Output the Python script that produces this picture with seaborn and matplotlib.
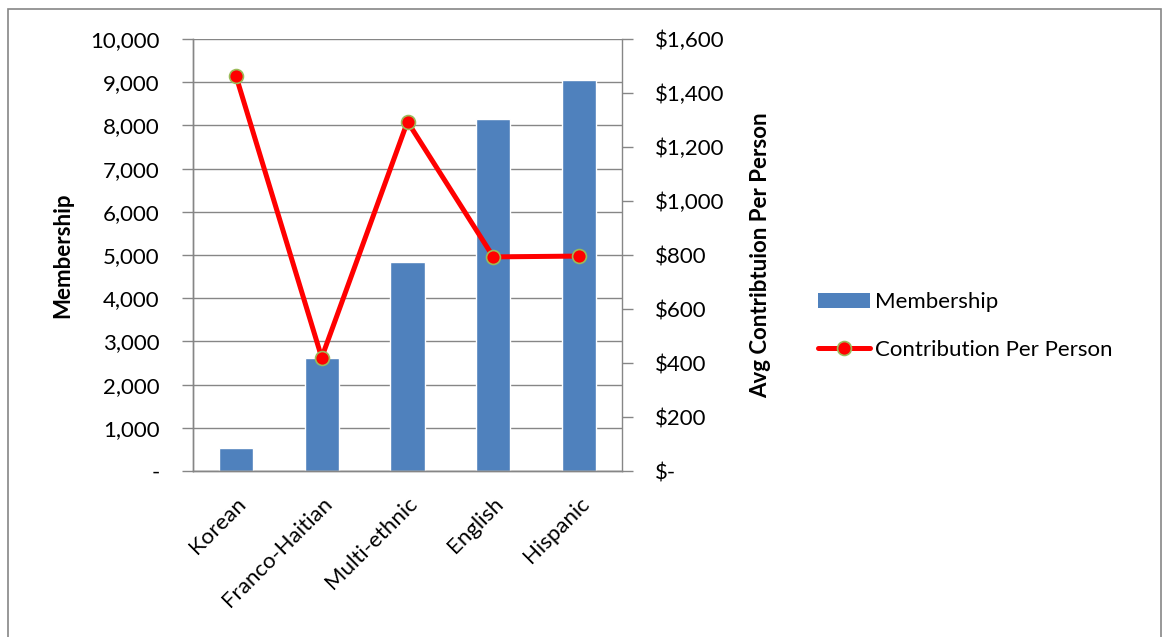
import matplotlib

matplotlib.use("Agg")
import matplotlib.pyplot as plt
import matplotlib.ticker as mticker
import numpy as np
import pandas as pd
import seaborn as sns
from matplotlib.lines import Line2D
from matplotlib.patches import Patch, Rectangle

categories = ["Korean", "Franco-Haitian", "Multi-ethnic", "English", "Hispanic"]
membership = [540, 2610, 4830, 8140, 9050]
contribution = [1464, 420, 1294, 793, 796]

BAR_COLOR = "#4F81BD"
LINE_COLOR = "#FF0000"
MARKER_EDGE = "#9BBB59"
AXIS_GRAY = "#868686"
FS = 16

sns.set_theme(style="white")
plt.rcParams["font.family"] = ["Lato", "DejaVu Sans"]
plt.rcParams.update({
    "font.size": FS,
    "xtick.labelsize": FS,
    "ytick.labelsize": FS,
    "text.color": "black",
    "axes.labelcolor": "black",
    "xtick.color": "black",
    "ytick.color": "black",
})

df = pd.DataFrame({"group": categories, "members": membership, "contrib": contribution})

fig = plt.figure(figsize=(11.63, 6.37), dpi=100)
ax = fig.add_axes([193 / 1163, 1 - 471 / 637, (622 - 193) / 1163, (471 - 39) / 637])

sns.barplot(data=df, x="group", y="members", color=BAR_COLOR, width=0.4,
            saturation=1, ax=ax, zorder=2)
ax.set_ylim(0, 10000)
ax.set_xlim(-0.5, len(categories) - 0.5)
ax.yaxis.set_major_locator(mticker.MultipleLocator(1000))
ax.yaxis.set_major_formatter(mticker.FuncFormatter(lambda v, p: "-" if v == 0 else f"{v:,.0f}"))
ax.grid(axis="y", color=AXIS_GRAY, linewidth=1, zorder=0)
ax.set_axisbelow(True)
ax.set_xlabel("")
ax.set_ylabel("Membership", fontsize=FS, fontweight="bold", labelpad=12)

ax2 = ax.twinx()
sns.lineplot(data=df, x="group", y="contrib", sort=False, color=LINE_COLOR,
             linewidth=3.6, marker="o", markersize=10, markerfacecolor=LINE_COLOR,
             markeredgecolor=MARKER_EDGE, markeredgewidth=1.2, ax=ax2, zorder=3)
ax2.set_ylim(0, 1600)
ax2.yaxis.set_major_locator(mticker.MultipleLocator(200))
ax2.yaxis.set_major_formatter(mticker.FuncFormatter(lambda v, p: "$-" if v == 0 else f"${v:,.0f}"))
ax2.set_ylabel("Avg Contribtuion Per Person", fontsize=FS, fontweight="bold", labelpad=18)
ax2.set_xlim(-0.5, len(categories) - 0.5)

# x ticks: labels at centers, tick marks at boundaries
ax.set_xticks(range(len(categories)))
ax.set_xticklabels(categories, rotation=45, ha="right", rotation_mode="anchor")
ax.set_xticks(np.arange(-0.5, len(categories)), minor=True)
ax.tick_params(axis="x", which="major", length=0, pad=16, labelsize=FS)
ax.tick_params(axis="x", which="minor", length=8, color=AXIS_GRAY, width=1, direction="out")
ax.tick_params(axis="y", length=8, color=AXIS_GRAY, width=1, direction="out", pad=16, labelsize=FS)
ax2.tick_params(axis="y", length=8, color=AXIS_GRAY, width=1, direction="out", pad=16, labelsize=FS)

for a in (ax, ax2):
    a.spines["top"].set_visible(False)
    for side in ("left", "right", "bottom"):
        a.spines[side].set_color(AXIS_GRAY)
        a.spines[side].set_linewidth(1)
ax.spines["right"].set_visible(False)

handles = [
    Patch(facecolor=BAR_COLOR, edgecolor="none"),
    Line2D([0], [0], color=LINE_COLOR, linewidth=3.6, marker="o", markersize=10,
           markerfacecolor=LINE_COLOR, markeredgecolor=MARKER_EDGE, markeredgewidth=1.2),
]
fig.legend(handles, ["Membership", "Contribution Per Person"], loc="center left",
           bbox_to_anchor=(798 / 1163, 1 - 326 / 637), frameon=False, fontsize=FS,
           handlelength=2.35, handletextpad=0.22, labelspacing=1.25)

fig.patches.append(Rectangle((8 / 1163, -0.02), (1161 - 8) / 1163, 1.02 - 9 / 637,
                             transform=fig.transFigure, fill=False,
                             edgecolor=AXIS_GRAY, linewidth=1.2))

fig.savefig("out.png", dpi=100)
